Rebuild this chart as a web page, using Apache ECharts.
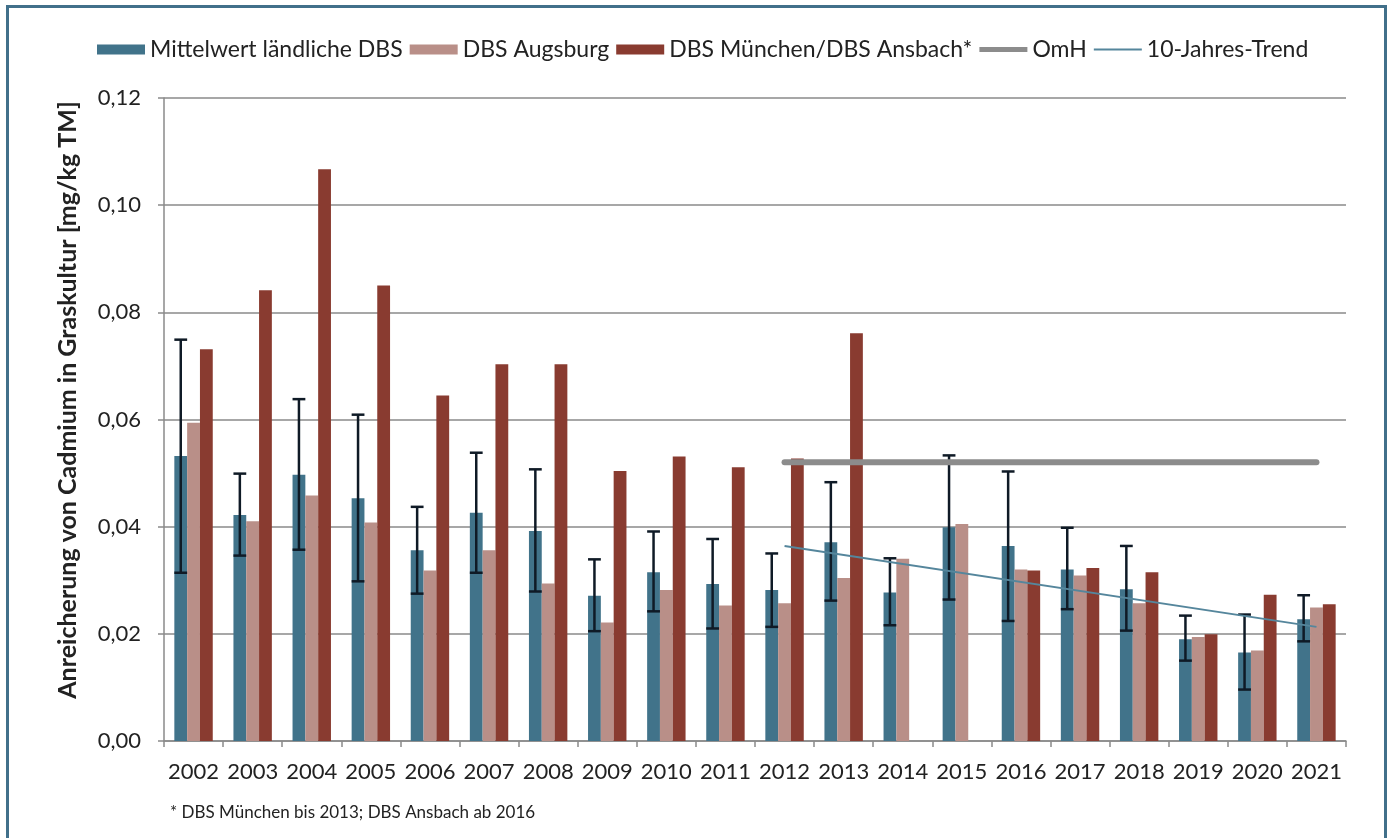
<!DOCTYPE html>
<html>
<head>
<meta charset="utf-8">
<script src="https://cdn.jsdelivr.net/npm/echarts@6/dist/echarts.min.js"></script>
<style>
  html, body { margin: 0; padding: 0; background: #ffffff; }
  #chart { width: 1387px; height: 838px; }
</style>
</head>
<body>
<div id="chart"></div>
<script>
// Years on the category axis
const years = ['2002', '2003', '2004', '2005', '2006', '2007', '2008', '2009', '2010', '2011',
               '2012', '2013', '2014', '2015', '2016', '2017', '2018', '2019', '2020', '2021'];

// Cadmium accumulation in grass culture [mg/kg TM]
const meanRural = [0.0532, 0.0422, 0.0497, 0.0453, 0.0356, 0.0426, 0.0392, 0.0271, 0.0315, 0.0293,
                   0.0282, 0.0371, 0.0277, 0.0399, 0.0364, 0.0320, 0.0283, 0.0190, 0.0165, 0.0227];
const augsburg = [0.0594, 0.0410, 0.0458, 0.0408, 0.0318, 0.0356, 0.0294, 0.0221, 0.0282, 0.0253,
                  0.0257, 0.0304, 0.0340, 0.0405, 0.0320, 0.0309, 0.0257, 0.0194, 0.0169, 0.0249];
const muenchenAnsbach = [0.0731, 0.0841, 0.1067, 0.0850, 0.0645, 0.0703, 0.0703, 0.0504, 0.0531, 0.0511,
                         0.0527, 0.0761, null, null, 0.0318, 0.0323, 0.0315, 0.0199, 0.0273, 0.0255];

// Spread of the rural stations (whisker ends)
const errHigh = [0.0749, 0.0499, 0.0638, 0.0609, 0.0437, 0.0538, 0.0507, 0.0339, 0.0391, 0.0377,
                 0.0350, 0.0483, 0.0341, 0.0533, 0.0503, 0.0398, 0.0364, 0.0234, 0.0236, 0.0272];
const errLow = [0.0314, 0.0346, 0.0357, 0.0298, 0.0275, 0.0314, 0.0279, 0.0205, 0.0242, 0.0210,
                0.0213, 0.0262, 0.0216, 0.0264, 0.0224, 0.0246, 0.0206, 0.0150, 0.0096, 0.0186];

// Upper range of normal background (OmH) and 10-year trend, endpoints only
const omh = [['2012', 0.052], ['2021', 0.052]];
const trend = [['2012', 0.0364], ['2021', 0.0213]];

const yTicks = { min: 0, max: 0.12, interval: 0.02 };

const FONT = 'Lato';
const C_TEAL = '#41738a';
const C_PINK = '#b98f88';
const C_RED = '#893b30';
const C_OMH = '#8c8c8c';
const C_TREND = '#55869c';
const CAT_GAP = 0.35;

const chart = echarts.init(document.getElementById('chart'), null, { renderer: 'canvas' });

const errData = years.map((y, i) => [i, errLow[i], errHigh[i]]);

// Whiskers centred on the first bar of each year
function renderErr(params, api) {
  const idx = api.value(0);
  const band = api.size([1, 0])[0];
  const bw = band * (1 - CAT_GAP) / 3;
  const cx = api.coord([idx, 0])[0] - bw;
  const yTop = api.coord([idx, api.value(2)])[1];
  const yBot = api.coord([idx, api.value(1)])[1];
  const half = bw / 2;
  const style = { stroke: '#0f1a26', lineWidth: 2.5 };
  return {
    type: 'group',
    children: [
      { type: 'line', shape: { x1: cx, y1: yTop, x2: cx, y2: yBot }, style },
      { type: 'line', shape: { x1: cx - half, y1: yTop, x2: cx + half, y2: yTop }, style },
      { type: 'line', shape: { x1: cx - half, y1: yBot, x2: cx + half, y2: yBot }, style }
    ]
  };
}

const option = {
  backgroundColor: '#ffffff',
  animation: false,
  textStyle: { fontFamily: FONT },
  grid: { left: 164, right: 41, top: 98, bottom: 97, containLabel: false },
  legend: {
    left: 92,
    top: 33,
    itemWidth: 48,
    itemHeight: 10,
    itemGap: 7,
    data: [
      { name: 'Mittelwert ländliche DBS', icon: 'rect' },
      { name: 'DBS Augsburg', icon: 'rect' },
      { name: 'DBS München/DBS Ansbach*', icon: 'rect' },
      { name: 'OmH', icon: 'path://M0,0H48V5H0Z' },
      { name: '10-Jahres-Trend', icon: 'path://M0,0H48V2H0Z' }
    ],
    textStyle: { fontFamily: FONT, fontSize: 23, color: '#222222' }
  },
  xAxis: {
    type: 'category',
    data: years,
    boundaryGap: true,
    axisLine: { lineStyle: { color: '#8a8a8a', width: 1.5 } },
    axisTick: { show: true, length: 6, interval: 0, lineStyle: { color: '#8a8a8a', width: 1.5 } },
    axisLabel: { interval: 0, fontFamily: FONT, fontSize: 22, color: '#222222', margin: 20 },
    splitLine: { show: false }
  },
  yAxis: {
    type: 'value',
    min: yTicks.min,
    max: yTicks.max,
    interval: yTicks.interval,
    axisLine: { show: true, lineStyle: { color: '#8a8a8a', width: 1.5 } },
    axisTick: { show: true, length: 6, lineStyle: { color: '#8a8a8a', width: 1.5 } },
    axisLabel: {
      fontFamily: FONT, fontSize: 22, color: '#222222', margin: 23,
      formatter: v => v.toFixed(2).replace('.', ',')
    },
    splitLine: { show: true, lineStyle: { color: '#8a8a8a', width: 1.5 } }
  },
  series: [
    {
      name: 'Mittelwert ländliche DBS', type: 'bar', data: meanRural,
      itemStyle: { color: C_TEAL }, barGap: '0%', barCategoryGap: (CAT_GAP * 100) + '%', z: 2
    },
    {
      name: 'DBS Augsburg', type: 'bar', data: augsburg,
      itemStyle: { color: C_PINK }, barGap: '0%', barCategoryGap: (CAT_GAP * 100) + '%', z: 2
    },
    {
      name: 'DBS München/DBS Ansbach*', type: 'bar', data: muenchenAnsbach,
      itemStyle: { color: C_RED }, barGap: '0%', barCategoryGap: (CAT_GAP * 100) + '%', z: 2
    },
    {
      name: 'Fehlerbalken', type: 'custom', data: errData,
      renderItem: renderErr, encode: { x: 0, y: [1, 2] }, z: 4, silent: true
    },
    {
      name: 'OmH', type: 'line', data: omh, symbol: 'none', z: 5,
      lineStyle: { color: C_OMH, width: 6, cap: 'round' },
      itemStyle: { color: C_OMH }
    },
    {
      name: '10-Jahres-Trend', type: 'line', data: trend, symbol: 'none', z: 6,
      lineStyle: { color: C_TREND, width: 2 },
      itemStyle: { color: C_TREND }
    }
  ],
  graphic: [
    {
      type: 'rect', left: 5, top: 4, z: 100, silent: true,
      shape: { x: 0, y: 0, width: 1378, height: 900 },
      style: { fill: 'none', stroke: '#41708a', lineWidth: 3 }
    },
    {
      type: 'text', x: 68, y: 400, rotation: Math.PI / 2, z: 100,
      style: {
        text: 'Anreicherung von Cadmium in Graskultur [mg/kg TM]',
        fontFamily: FONT, fontSize: 25, fontWeight: 'bold', fill: '#222222',
        textAlign: 'center', textVerticalAlign: 'middle'
      }
    },
    {
      type: 'text', x: 170, y: 813, z: 100,
      style: {
        text: '* DBS München bis 2013; DBS Ansbach ab 2016',
        fontFamily: FONT, fontSize: 17, fill: '#222222',
        textAlign: 'left', textVerticalAlign: 'middle'
      }
    }
  ]
};

chart.setOption(option);
</script>
</body>
</html>
